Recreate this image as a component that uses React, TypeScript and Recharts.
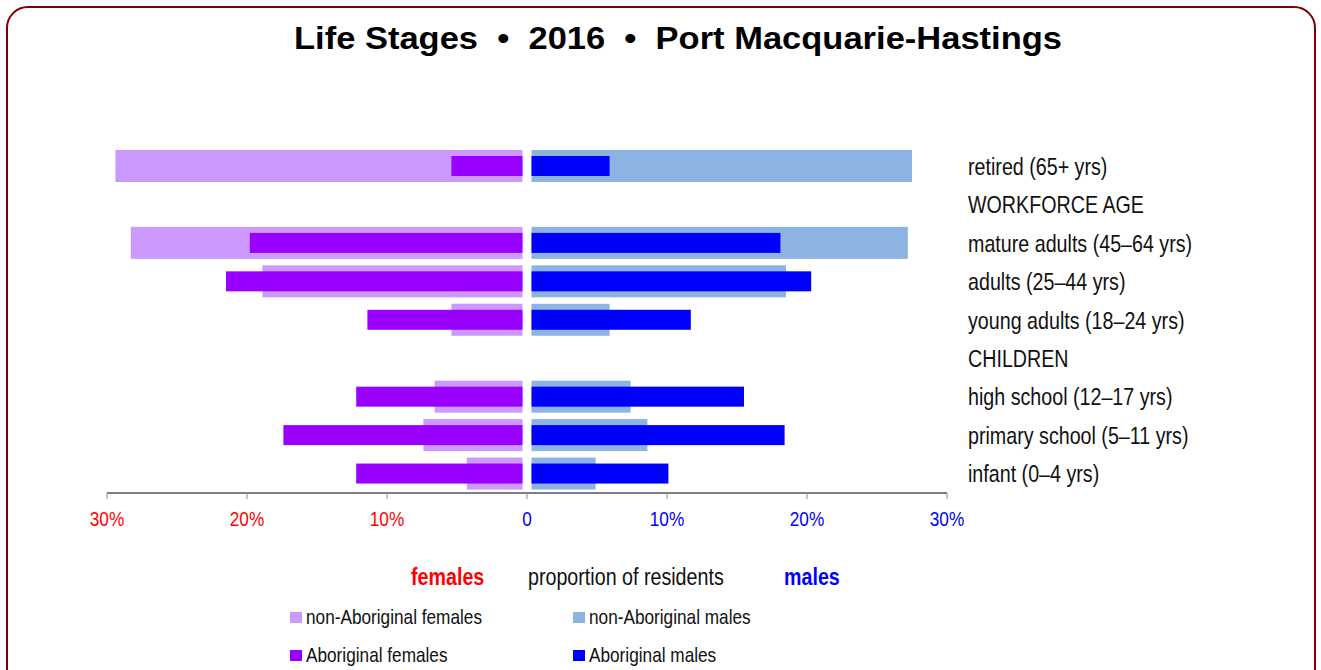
import { BarChart, Bar, XAxis, YAxis } from "recharts";

const stages = [
  "retired (65+ yrs)",
  "WORKFORCE AGE",
  "mature adults (45–64 yrs)",
  "adults (25–44 yrs)",
  "young adults (18–24 yrs)",
  "CHILDREN",
  "high school (12–17 yrs)",
  "primary school (5–11 yrs)",
  "infant (0–4 yrs)",
];

// percent of residents (null = section heading row)
const nonAboriginalFemales = [29.4, null, 28.3, 18.9, 5.4, null, 6.6, 7.4, 4.3];
const aboriginalFemales = [5.4, null, 19.8, 21.5, 11.4, null, 12.2, 17.4, 12.2];
const nonAboriginalMales = [27.5, null, 27.2, 18.5, 5.9, null, 7.4, 8.6, 4.9];
const aboriginalMales = [5.9, null, 18.1, 20.3, 11.7, null, 15.5, 18.4, 10.1];

const xTicks = [-30, -20, -10, 0, 10, 20, 30];

const RED = "#ff0000";
const BLUE = "#0000ff";
const SANS = '"Liberation Sans", Arial, Helvetica, sans-serif';
const SQUEEZE = 0.82; // the original uses a narrow face
const GAP = 4.5;

const data = stages.map((label, i) => ({
  label,
  nonAbF: nonAboriginalFemales[i] == null ? null : -(nonAboriginalFemales[i] as number),
  abF: aboriginalFemales[i] == null ? null : -(aboriginalFemales[i] as number),
  nonAbM: nonAboriginalMales[i],
  abM: aboriginalMales[i],
}));

// narrow text: regular face squeezed horizontally
function NText(props: {
  x: number;
  y: number;
  size: number;
  fill?: string;
  bold?: boolean;
  anchor?: "start" | "middle" | "end";
  dy?: string;
  children: any;
}) {
  const { x, y, size, fill = "#111", bold, anchor = "start", dy, children } = props;
  return (
    <text
      transform={`translate(${x},${y}) scale(${SQUEEZE},1)`}
      fontFamily={SANS}
      fontSize={size}
      fontWeight={bold ? "bold" : "normal"}
      fill={fill}
      textAnchor={anchor}
      dy={dy}
    >
      {children}
    </text>
  );
}

// bars leave a small white gap either side of zero
const trimmed = (side: "f" | "m") => (p: any) => {
  const { x, y, width, height, fill } = p;
  if (x == null || !width) return <g />;
  let left = Math.min(x, x + width);
  let w = Math.abs(width);
  if (side === "m") left += GAP;
  w = Math.max(0, w - GAP);
  return <rect x={left} y={y} width={w} height={height} fill={fill} />;
};

const XTick = (p: any) => {
  const { x, y, payload } = p;
  const v = payload.value as number;
  return (
    <NText x={x} y={y + 25} size={21} anchor="middle" fill={v < 0 ? RED : BLUE}>
      {v === 0 ? "0" : `${Math.abs(v)}%`}
    </NText>
  );
};

const YTick = (p: any) => {
  const { x, y, payload } = p;
  return (
    <NText x={x} y={y} size={24} dy="0.355em">
      {payload.value}
    </NText>
  );
};

const legendItems = [
  { label: "non-Aboriginal females", color: "#cc99ff", x: 290, y: 617 },
  { label: "Aboriginal females", color: "#9900ff", x: 290, y: 655 },
  { label: "non-Aboriginal males", color: "#8db3e2", x: 573, y: 617 },
  { label: "Aboriginal males", color: "#0000ff", x: 573, y: 655 },
];

export default function App() {
  return (
    <div
      style={{
        position: "fixed",
        left: 0,
        top: 0,
        width: 1321,
        height: 670,
        overflow: "hidden",
        background: "#fff",
      }}
    >
      <div
        style={{
          position: "absolute",
          left: 6,
          top: 6,
          width: 1310,
          height: 720,
          boxSizing: "border-box",
          border: "2px solid #800000",
          borderRadius: 22,
        }}
      />

      <div style={{ position: "absolute", left: 0, top: 0 }}>
        <BarChart
          width={1321}
          height={540}
          data={data}
          layout="vertical"
          stackOffset="sign"
          margin={{ top: 147, right: 124, bottom: 7, left: 107 }}
        >
          <XAxis
            type="number"
            domain={[-30, 30]}
            ticks={xTicks}
            height={40}
            tick={<XTick />}
            tickSize={6}
            tickLine={{ stroke: "#888" }}
            axisLine={{ stroke: "#000" }}
          />
          <YAxis
            yAxisId="wide"
            type="category"
            dataKey="label"
            orientation="right"
            width={250}
            axisLine={false}
            tickLine={false}
            tickSize={0}
            tickMargin={21}
            interval={0}
            tick={<YTick />}
          />
          <YAxis yAxisId="narrow" type="category" dataKey="label" hide />
          <Bar
            yAxisId="wide"
            dataKey="nonAbF"
            stackId="light"
            barSize={32}
            fill="#cc99ff"
            shape={trimmed("f")}
            isAnimationActive={false}
          />
          <Bar
            yAxisId="wide"
            dataKey="nonAbM"
            stackId="light"
            barSize={32}
            fill="#8db3e2"
            shape={trimmed("m")}
            isAnimationActive={false}
          />
          <Bar
            yAxisId="narrow"
            dataKey="abF"
            stackId="dark"
            barSize={20}
            fill="#9900ff"
            shape={trimmed("f")}
            isAnimationActive={false}
          />
          <Bar
            yAxisId="narrow"
            dataKey="abM"
            stackId="dark"
            barSize={20}
            fill="#0000ff"
            shape={trimmed("m")}
            isAnimationActive={false}
          />
        </BarChart>
      </div>

      <svg
        width={1321}
        height={670}
        style={{ position: "absolute", left: 0, top: 0, pointerEvents: "none" }}
      >
        <text
          x={294}
          y={49}
          fontFamily={SANS}
          fontWeight="bold"
          fontSize={31}
          fill="#000"
          textLength={768}
          lengthAdjust="spacingAndGlyphs"
          style={{ whiteSpace: "pre" }}
        >
          {"Life Stages  •  2016  •  Port Macquarie-Hastings"}
        </text>

        <NText x={411} y={585} size={24} bold fill={RED}>
          females
        </NText>
        <NText x={528} y={585} size={24}>
          proportion of residents
        </NText>
        <NText x={784} y={585} size={24} bold fill={BLUE}>
          males
        </NText>

        {legendItems.map((it) => (
          <g key={it.label}>
            <rect x={it.x} y={it.y - 5} width={12} height={11} fill={it.color} />
            <NText x={it.x + 16} y={it.y + 7} size={21}>
              {it.label}
            </NText>
          </g>
        ))}
      </svg>
    </div>
  );
}
